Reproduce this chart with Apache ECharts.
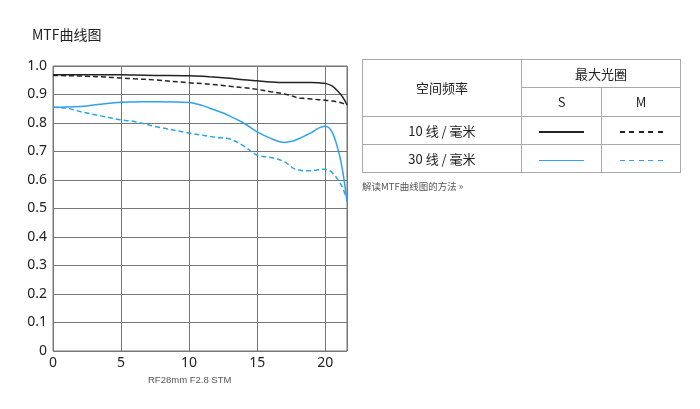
<!DOCTYPE html>
<html>
<head>
<meta charset="utf-8">
<script src="https://cdn.jsdelivr.net/npm/echarts@6/dist/echarts.min.js"></script>
<style>
  html, body { margin: 0; padding: 0; background: #fff; }
  #wrap { position: relative; width: 700px; height: 409px; font-family: "Noto Sans CJK SC", "Noto Sans", sans-serif; color: #222; }
  #chart { position: absolute; left: 0; top: 0; width: 700px; height: 409px; }
  table.mtf { position: absolute; left: 362px; top: 59px; width: 319px; height: 114px; border-collapse: collapse; font-size: 13px; }
  table.mtf td { border: 1px solid #aaa; text-align: center; padding: 0; height: 27px; }
  .ln { display: inline-block; width: 45px; height: 1.5px; vertical-align: middle; }
  .solid-k { background: #222; }
  .dash-k { width: 43px; background: repeating-linear-gradient(90deg, #222 0 5px, transparent 5px 9.5px); }
  .solid-b { background: #2ea3ea; }
  .dash-b { width: 43px; background: repeating-linear-gradient(90deg, #2ea3ea 0 5px, transparent 5px 9.5px); }
  #link { position: absolute; left: 362px; top: 179px; font-size: 9.5px; color: #555; }
</style>
</head>
<body>
<div id="wrap">
  <div id="chart"></div>
  <table class="mtf">
    <tr><td rowspan="2" style="width:158px">空间频率</td><td colspan="2">最大光圈</td></tr>
    <tr><td style="width:79px">S</td><td>M</td></tr>
    <tr><td>10 线 / 毫米</td><td><span class="ln solid-k"></span></td><td><span class="ln dash-k"></span></td></tr>
    <tr><td>30 线 / 毫米</td><td><span class="ln solid-b"></span></td><td><span class="ln dash-b"></span></td></tr>
  </table>
  <div id="link">解读MTF曲线图的方法 »</div>
</div>
<script>
// 像高 (mm)
const imageHeight = [0, 1, 2, 2.5, 3.5, 5, 6, 7.5, 10, 11, 11.5, 12.5, 13, 14, 15, 16, 17, 17.7, 18, 18.5, 19, 19.5, 20, 20.5, 21, 21.3, 21.6];

// 10 线/毫米 S, M
const s10 = [0.969, 0.969, 0.969, 0.969, 0.969, 0.969, 0.968, 0.967, 0.966, 0.964, 0.962, 0.959, 0.957, 0.952, 0.948, 0.944, 0.942, 0.942, 0.942, 0.942, 0.942, 0.941, 0.939, 0.930, 0.908, 0.890, 0.863];
const m10 = [0.967, 0.966, 0.965, 0.964, 0.962, 0.958, 0.955, 0.951, 0.941, 0.938, 0.936, 0.932, 0.929, 0.924, 0.918, 0.910, 0.902, 0.893, 0.888, 0.886, 0.884, 0.882, 0.880, 0.877, 0.873, 0.869, 0.863];

// 30 线/毫米 S, M
const s30 = [0.855, 0.856, 0.858, 0.860, 0.866, 0.873, 0.874, 0.875, 0.872, 0.861, 0.852, 0.835, 0.824, 0.800, 0.769, 0.746, 0.732, 0.738, 0.744, 0.755, 0.767, 0.782, 0.789, 0.769, 0.696, 0.626, 0.525];
const m30 = [0.855, 0.852, 0.840, 0.835, 0.825, 0.811, 0.805, 0.788, 0.765, 0.757, 0.753, 0.747, 0.744, 0.720, 0.687, 0.679, 0.664, 0.640, 0.636, 0.632, 0.633, 0.636, 0.638, 0.626, 0.596, 0.570, 0.530];

const yTicks = ["0", "0.1", "0.2", "0.3", "0.4", "0.5", "0.6", "0.7", "0.8", "0.9", "1.0"];

const pairs = (ys) => imageHeight.map((x, i) => [x, ys[i]]);

const chart = echarts.init(document.getElementById("chart"));

const lineSeries = (data, color, type) => ({
    type: "line",
    data: pairs(data),
    smooth: 0.35,
    symbol: "none",
    lineStyle: { color: color, width: 1.5, type: type },
});

chart.setOption({
    animation: false,
    title: {
        text: "MTF曲线图",
        left: 27,
        top: 23,
        textStyle: { fontSize: 14, fontWeight: "normal", color: "#222", fontFamily: "Noto Sans CJK SC" },
    },
    grid: { left: 53, top: 66, width: 294, height: 285, show: true, borderColor: "#777", borderWidth: 1 },
    xAxis: {
        type: "value",
        min: 0,
        max: 21.6,
        interval: 5,
        axisLine: { show: false },
        axisTick: { show: false },
        splitLine: { lineStyle: { color: "#777" } },
        axisLabel: {
            color: "#222",
            fontSize: 14,
            margin: 5,
            fontFamily: "Noto Sans",
            formatter: (v) => (v % 5 === 0 ? String(v) : ""),
            showMaxLabel: false,
        },
    },
    yAxis: {
        type: "value",
        min: 0,
        max: 1,
        interval: 0.1,
        axisLine: { show: false },
        axisTick: { show: false },
        splitLine: { lineStyle: { color: "#777" } },
        axisLabel: {
            color: "#222",
            fontSize: 14,
            margin: 6,
            fontFamily: "Noto Sans",
            formatter: (v) => yTicks[Math.round(v * 10)],
        },
    },
    graphic: [
        {
            type: "text",
            left: 148,
            top: 375,
            style: { text: "RF28mm F2.8 STM", fontSize: 9.5, fill: "#555", fontFamily: "Liberation Sans" },
        },
    ],
    series: [
        lineSeries(s10, "#222", "solid"),
        lineSeries(m10, "#222", [5, 3]),
        lineSeries(s30, "#2ea3ea", "solid"),
        lineSeries(m30, "#2ea3ea", [5, 3]),
    ],
});
</script>
</body>
</html>
